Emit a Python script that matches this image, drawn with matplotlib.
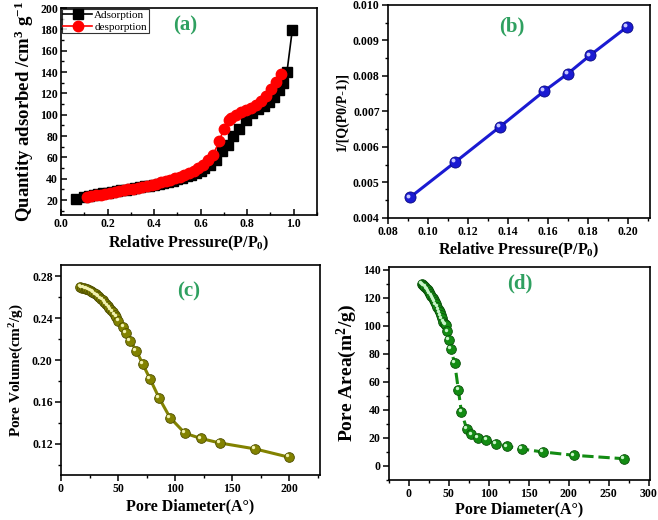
import matplotlib
matplotlib.use("Agg")
import matplotlib.pyplot as plt
from matplotlib.ticker import AutoMinorLocator, MultipleLocator
from matplotlib.transforms import ScaledTranslation

plt.rcParams['font.family'] = ['Liberation Serif', 'DejaVu Serif']
plt.rcParams['font.weight'] = 'bold'
plt.rcParams['axes.labelweight'] = 'bold'
plt.rcParams['mathtext.fontset'] = 'custom'
plt.rcParams['mathtext.rm'] = 'Liberation Serif:bold'
plt.rcParams['mathtext.it'] = 'Liberation Serif:bold:italic'
plt.rcParams['mathtext.bf'] = 'Liberation Serif:bold'
plt.rcParams['axes.linewidth'] = 1.2

# (a) N2 adsorption / desorption isotherm
ads_p = [0.065, 0.10, 0.12, 0.14, 0.16, 0.18, 0.20, 0.22, 0.24, 0.26, 0.28, 0.30,
         0.32, 0.34, 0.36, 0.38, 0.40, 0.42, 0.44, 0.46, 0.48, 0.50, 0.52, 0.54,
         0.56, 0.58, 0.60, 0.615, 0.642, 0.668, 0.694, 0.718, 0.74, 0.765, 0.794,
         0.821, 0.847, 0.873, 0.894, 0.914, 0.937, 0.954, 0.971, 0.994]
ads_q = [21, 22.5, 23.5, 24.5, 25.5, 26.3, 27.0, 27.8, 28.5, 29.2, 29.9, 30.6,
         31.3, 32.0, 32.8, 33.6, 34.4, 35.3, 36.2, 37.2, 38.3, 39.5, 40.8, 42.2,
         43.8, 45.6, 47.6, 50, 52.7, 57.8, 65.6, 72, 80, 87, 95.5,
         102, 105, 108, 112, 117, 123, 130, 140, 179.5]
des_p = [0.947, 0.926, 0.904, 0.883, 0.861, 0.84, 0.818, 0.797, 0.775, 0.754,
         0.732, 0.721, 0.70, 0.68, 0.654, 0.632, 0.611, 0.59, 0.57, 0.55, 0.53,
         0.51, 0.49, 0.47, 0.45, 0.43, 0.41, 0.39, 0.37, 0.35, 0.33, 0.31, 0.29,
         0.27, 0.25, 0.23, 0.21, 0.19, 0.17, 0.15, 0.13, 0.11]
des_q = [138, 131, 124, 117.5, 113, 108.7, 106.5, 104, 102.5, 100,
         97, 95.5, 87, 75, 62.5, 58, 53, 50, 47.5, 45.3, 43.5,
         41.8, 40.3, 39, 37.7, 36.5, 35.4, 34.4, 33.4, 32.5, 31.6, 30.8, 30,
         29.2, 28.4, 27.6, 26.8, 26, 25.2, 24.4, 23.5, 22.6]

# (b) BET plot
bet_p = [0.091, 0.1135, 0.136, 0.158, 0.170, 0.181, 0.1995]
bet_v = [0.00458, 0.00557, 0.00657, 0.00757, 0.00807, 0.00858, 0.00938]

# (c) pore volume vs pore diameter
pv_d = [17, 18.5, 20, 21.5, 23, 24.5, 26, 27.5, 29, 30.5, 32, 33.5, 35, 36.5,
        38, 39.5, 41, 42.5, 44, 45.5, 47, 48.5, 50.3, 54.7, 57, 60.5, 66, 71.5,
        78, 86, 95.5, 108.6, 122.6, 139, 170, 200]
pv_v = [0.2697, 0.2694, 0.2689, 0.2683, 0.2677, 0.2669, 0.2661, 0.2651, 0.2641,
        0.2629, 0.2616, 0.2603, 0.2588, 0.2572, 0.2556, 0.2538, 0.2519, 0.2500,
        0.2479, 0.2457, 0.2435, 0.2411, 0.2376, 0.232, 0.226, 0.2185, 0.209,
        0.1965, 0.182, 0.1637, 0.145, 0.130, 0.125, 0.1207, 0.115, 0.107]

# (d) pore area vs pore diameter
pa_d = [16.3, 17.8, 19.3, 20.8, 22.3, 23.8, 25.3, 26.8, 28.3, 29.8, 31.3, 32.8,
        34.3, 35.8, 37.3, 38.8, 40.3, 41.8, 43.3, 44.8, 46.0, 48.3, 50.3, 52.4,
        57.4, 62, 65.8, 72.4, 78.2, 86.5, 97, 108.6, 123, 142, 168, 207, 269]
pa_a = [130, 129.2, 128.3, 127.4, 126.4, 125.3, 124.1, 122.8, 121.4, 120.0,
        118.5, 116.9, 115.2, 113.4, 111.5, 109.5, 107.4, 105.2, 102.9, 101.5,
        100.7, 96, 90, 83.3, 73.3, 54.2, 38.4, 26.5, 22.5, 20, 18.4, 16, 14,
        12, 10, 7.6, 5.2]

label_green = '#2fa060'

fig = plt.figure(figsize=(6.58, 5.2), dpi=100)
ax_a = fig.add_axes([0.0927, 0.5865, 0.389, 0.398])
ax_b = fig.add_axes([0.5897, 0.5808, 0.398, 0.4096])
ax_c = fig.add_axes([0.0927, 0.0865, 0.3936, 0.404])
ax_d = fig.add_axes([0.591, 0.0769, 0.397, 0.41])


def sphere(ax, x, y, color, edge, light, ms, ls='-'):
    ax.plot(x, y, color=color, lw=2.2, ls=ls, zorder=2)
    ax.plot(x, y, 'o', ls='none', ms=ms, mfc=color, mec=edge, mew=0.6, zorder=3)
    shift = ax.transData + ScaledTranslation(-1.3 / 72, 1.3 / 72, fig.dpi_scale_trans)
    ax.plot(x, y, 'o', ls='none', ms=ms * 0.35, mfc=light, mec='none',
            transform=shift, zorder=4)


def style(ax, direction):
    ax.xaxis.set_minor_locator(AutoMinorLocator(2))
    ax.yaxis.set_minor_locator(AutoMinorLocator(2))
    ax.tick_params(which='major', direction=direction, length=4, width=1.1,
                   labelsize=8.5, pad=2)
    ax.tick_params(which='minor', direction=direction, length=2.5, width=1)


# ---- (a)
ax_a.plot(ads_p, ads_q, 's-', color='black', ms=6.5, lw=1.2, label='Adsorption', zorder=2)
ax_a.plot(des_p, des_q, 'o-', color='red', ms=7.5, lw=1.2, label='desporption', zorder=3)
ax_a.set_xlim(0, 1.1)
ax_a.set_ylim(6, 200)
ax_a.xaxis.set_major_locator(MultipleLocator(0.2))
ax_a.yaxis.set_major_locator(MultipleLocator(20))
style(ax_a, 'in')
ax_a.set_xlabel('Relative Pressure(P/P$_0$)', fontsize=11.5, labelpad=3)
ax_a.set_ylabel('Quantity adsorbed /cm$^3$ g$^{-1}$', fontsize=13.5, labelpad=3)
leg = ax_a.legend(loc='upper left', prop={'size': 8, 'weight': 'normal'},
                  frameon=True, fancybox=False, edgecolor='black', borderpad=0.15,
                  handlelength=2.6, handletextpad=0.2, labelspacing=0.15,
                  borderaxespad=0.05)
leg.get_frame().set_linewidth(0.8)
ax_a.text(0.484, 0.918, '(a)', transform=ax_a.transAxes, color=label_green,
          fontsize=15, fontweight='bold', ha='center', va='center')

# ---- (b)
sphere(ax_b, bet_p, bet_v, '#1a1ad2', '#0a0a80', '#c8c8ff', 8)
ax_b.set_xlim(0.08, 0.211)
ax_b.set_ylim(0.004, 0.010)
ax_b.xaxis.set_major_locator(MultipleLocator(0.02))
ax_b.yaxis.set_major_locator(MultipleLocator(0.001))
ax_b.xaxis.set_major_formatter(lambda v, p: f'{v:.2f}')
ax_b.yaxis.set_major_formatter(lambda v, p: f'{v:.3f}')
style(ax_b, 'out')
ax_b.set_xlabel('Relative Pressure(P/P$_0$)', fontsize=11.5, labelpad=2)
ax_b.set_ylabel('1/[Q(P0/P-1)]', fontsize=10, labelpad=3)
ax_b.text(0.472, 0.898, '(b)', transform=ax_b.transAxes, color=label_green,
          fontsize=15, fontweight='bold', ha='center', va='center')

# ---- (c)
sphere(ax_c, pv_d, pv_v, '#828200', '#4e4e00', '#f2f2b0', 7)
ax_c.set_xlim(0, 227)
ax_c.set_ylim(0.09, 0.291)
ax_c.xaxis.set_major_locator(MultipleLocator(50))
ax_c.yaxis.set_major_locator(MultipleLocator(0.04))
ax_c.yaxis.set_major_formatter(lambda v, p: f'{v:.2f}')
style(ax_c, 'out')
ax_c.set_xlabel('Pore Diameter(A°)', fontsize=11.5, labelpad=2)
ax_c.set_ylabel('Pore Volume(cm$^2$/g)', fontsize=11, labelpad=4)
ax_c.text(0.494, 0.873, '(c)', transform=ax_c.transAxes, color=label_green,
          fontsize=15, fontweight='bold', ha='center', va='center')

# ---- (d)
sphere(ax_d, pa_d, pa_a, '#138c13', '#0a500a', '#c8f5c8', 7, ls='--')
ax_d.set_xlim(-25, 302)
ax_d.set_ylim(-10, 142)
ax_d.xaxis.set_major_locator(MultipleLocator(50))
ax_d.yaxis.set_major_locator(MultipleLocator(20))
style(ax_d, 'out')
ax_d.set_xlabel('Pore Diameter(A°)', fontsize=11.5, labelpad=1)
ax_d.set_ylabel('Pore Area(m$^2$/g)', fontsize=14, labelpad=3)
ax_d.text(0.502, 0.923, '(d)', transform=ax_d.transAxes, color=label_green,
          fontsize=15, fontweight='bold', ha='center', va='center')

# make tick labels bold
fig.canvas.draw()
for ax in (ax_a, ax_b, ax_c, ax_d):
    plt.setp(ax.get_xticklabels() + ax.get_yticklabels(), fontweight='bold')

fig.savefig('out.png', dpi=100)
